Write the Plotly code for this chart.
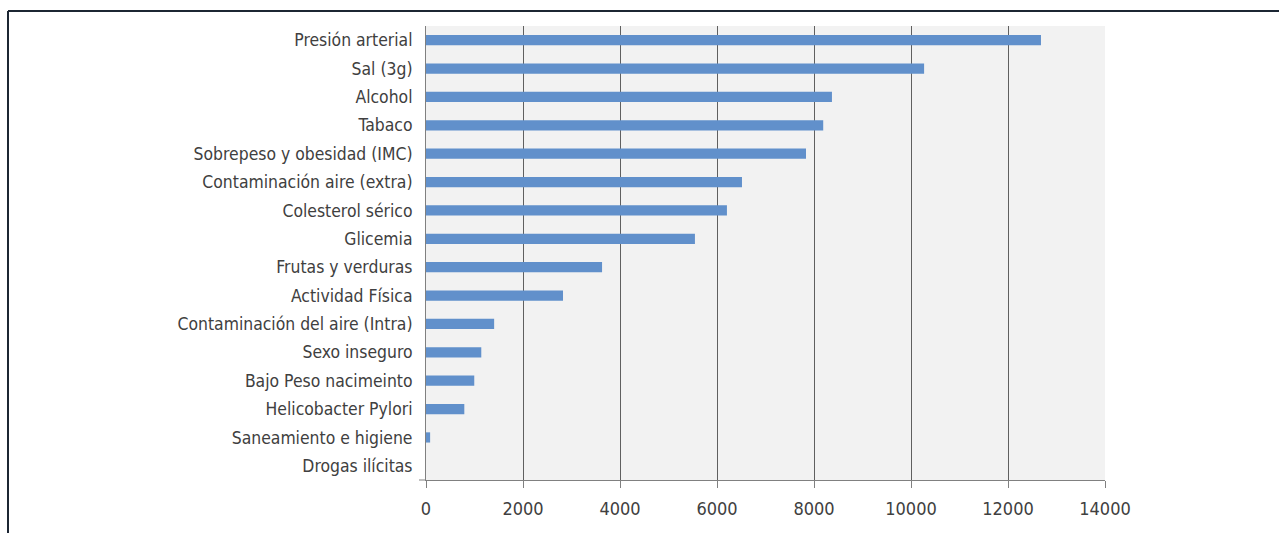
import plotly.graph_objects as go

# Risk factors (top to bottom) and their values
factores = [
    "Presión arterial",
    "Sal (3g)",
    "Alcohol",
    "Tabaco",
    "Sobrepeso y obesidad (IMC)",
    "Contaminación aire (extra)",
    "Colesterol sérico",
    "Glicemia",
    "Frutas y verduras",
    "Actividad Física",
    "Contaminación del aire (Intra)",
    "Sexo inseguro",
    "Bajo Peso nacimeinto",
    "Helicobacter Pylori",
    "Saneamiento e higiene",
    "Drogas ilícitas",
]
valores = [12680, 10270, 8370, 8190, 7835, 6515, 6205, 5545,
           3630, 2825, 1405, 1140, 995, 790, 85, 0]
ticks_x = [0, 2000, 4000, 6000, 8000, 10000, 12000, 14000]

W, H = 1279, 533
ML, MR, MT, MB = 426, 174, 26, 53
PW, PH = W - ML - MR, H - MT - MB

fig = go.Figure(
    go.Bar(
        x=valores,
        y=factores,
        orientation="h",
        marker=dict(color="#6190CB", line=dict(width=0)),
        width=0.36,
    )
)


def px_x(px):
    return (px - ML) / PW


def px_y(py):
    return (H - MB - py) / PH


# outer frame (top and left edges)
frame = dict(color="#1c2633", width=2)
fig.add_shape(type="line", xref="paper", yref="paper",
              x0=px_x(8), x1=px_x(W + 5), y0=px_y(11), y1=px_y(11), line=frame)
fig.add_shape(type="line", xref="paper", yref="paper",
              x0=px_x(8), x1=px_x(8), y0=px_y(11), y1=px_y(H + 5), line=frame)
# short tick left of the axis corner
fig.add_shape(type="line", xref="paper", yref="paper",
              x0=px_x(419), x1=px_x(426), y0=0, y1=0,
              line=dict(color="#808080", width=1))

FONT = "DejaVu Sans Condensed, Roboto, sans-serif"

fig.update_layout(
    width=W,
    height=H,
    margin=dict(l=ML, r=MR, t=MT, b=MB),
    paper_bgcolor="white",
    plot_bgcolor="#f2f2f2",
    showlegend=False,
    font=dict(family=FONT, color="#404040"),
    xaxis=dict(
        range=[0, 14000],
        tickvals=ticks_x,
        ticktext=[str(t) for t in ticks_x],
        showgrid=True,
        gridcolor="#606060",
        gridwidth=1,
        zeroline=False,
        showline=True,
        linecolor="#808080",
        linewidth=1,
        ticks="outside",
        ticklen=7,
        tickcolor="#808080",
        ticklabelstandoff=5,
        tickfont=dict(size=18, color="#404040"),
    ),
    yaxis=dict(
        categoryorder="array",
        categoryarray=factores[::-1],
        showgrid=False,
        zeroline=False,
        showline=True,
        linecolor="#808080",
        linewidth=1,
        ticks="",
        ticklabelstandoff=9,
        tickfont=dict(size=17.4, color="#404040"),
    ),
)

fig.write_html("out.html")
